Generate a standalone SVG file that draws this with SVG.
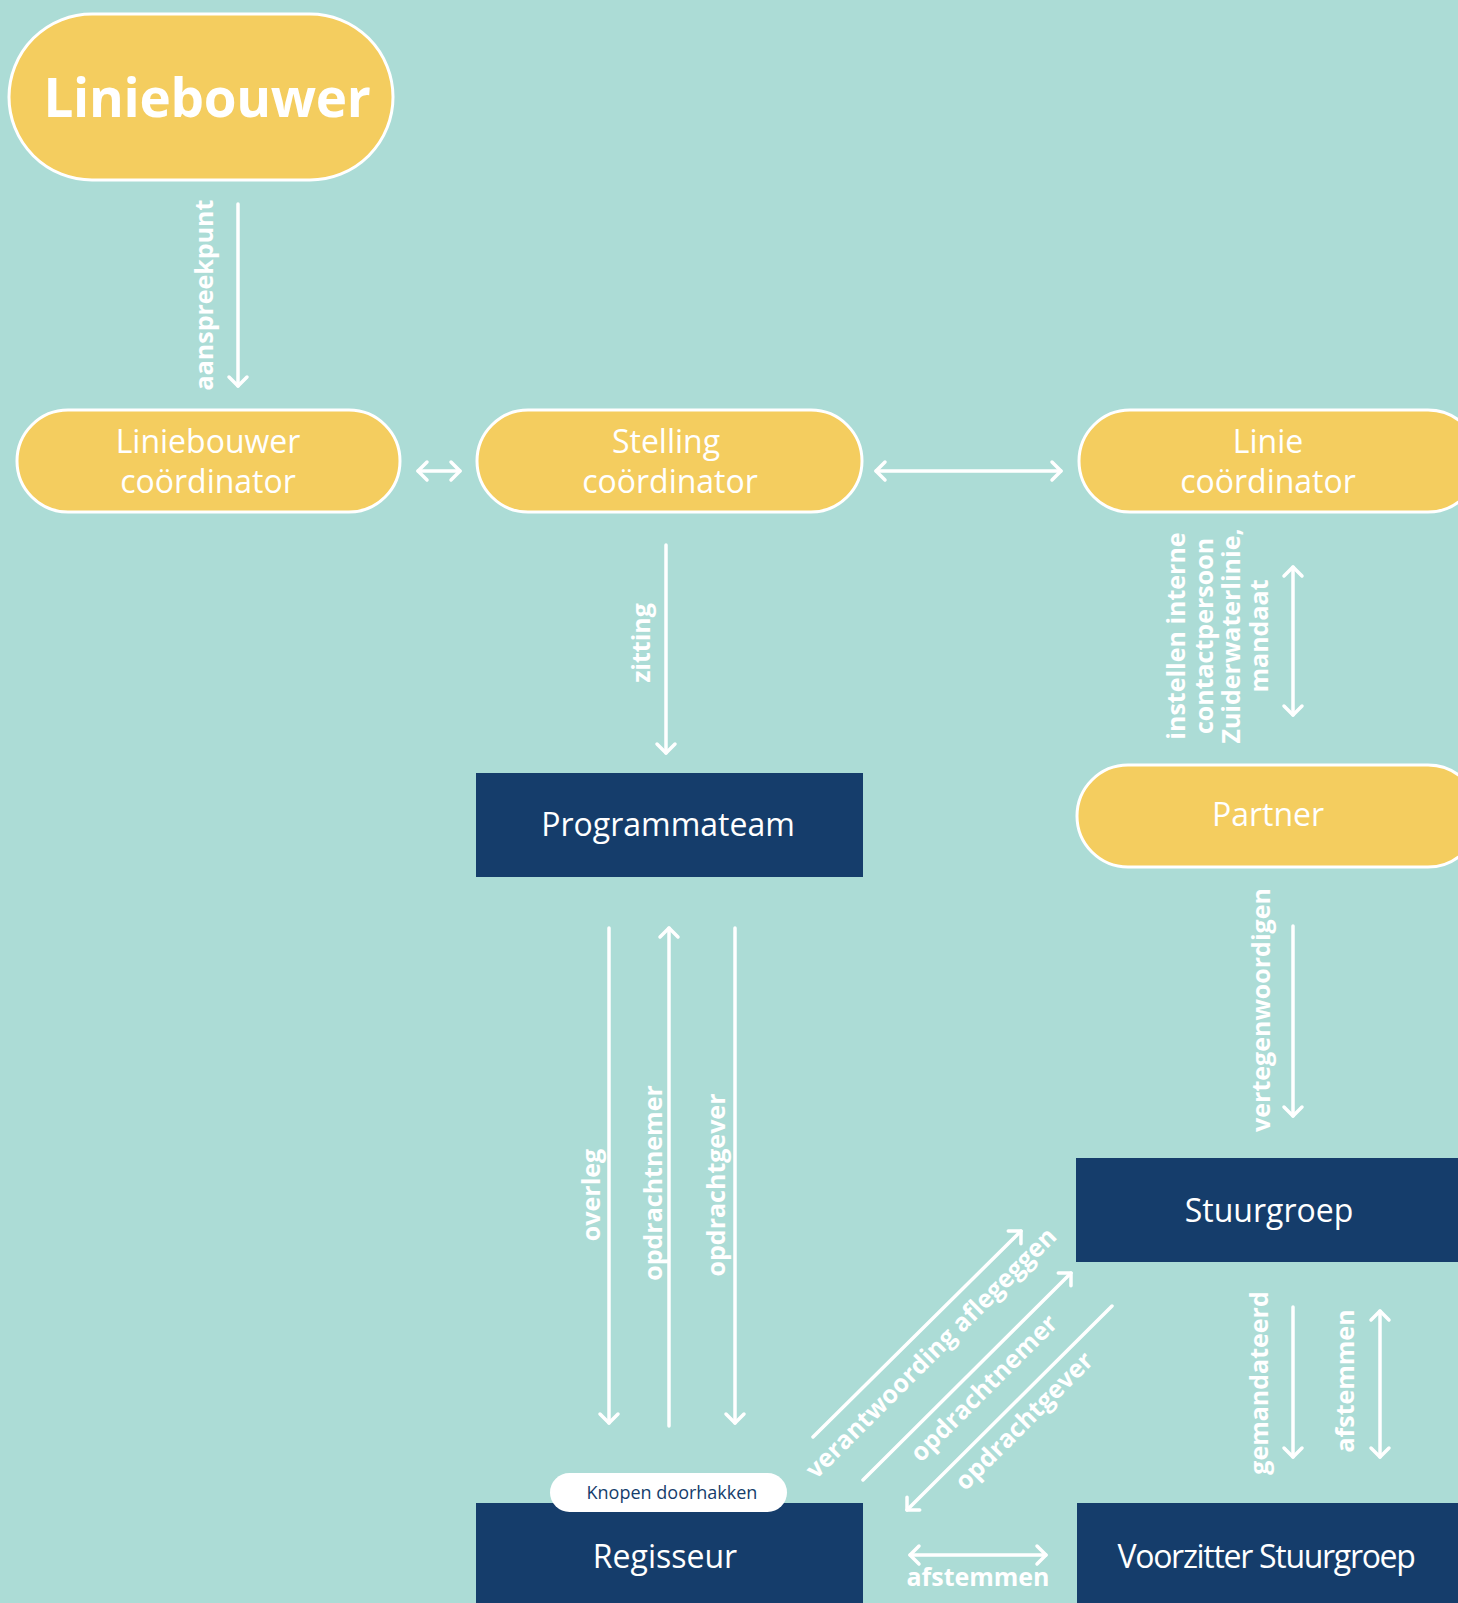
<svg xmlns="http://www.w3.org/2000/svg" width="1458" height="1603" viewBox="0 0 1458 1603">
<defs>
<style>
.pill{fill:#f4cd5f;stroke:#ffffff;stroke-width:3}
.box{fill:#153d6b}
.nt{font-family:"Open Sans","Liberation Sans",sans-serif;font-size:32px;fill:#ffffff;text-anchor:middle}
.lb{font-family:"Open Sans","Liberation Sans",sans-serif;font-size:25px;font-weight:700;fill:#ffffff;text-anchor:middle}
.ln{stroke:#ffffff;stroke-width:3.5;stroke-linecap:round;fill:none}
</style>
<marker id="ah" viewBox="-12 -12 24 24" markerWidth="24" markerHeight="24" refX="0" refY="0" markerUnits="userSpaceOnUse" orient="auto-start-reverse">
<path d="M-9,-9 L0,0 L-9,9" fill="none" stroke="#ffffff" stroke-width="3.5" stroke-linecap="round" stroke-linejoin="round"/>
</marker>
</defs>
<rect x="0" y="0" width="1458" height="1603" fill="#acdcd6"/>

<g id="connectors">
<line class="ln" x1="238" y1="204" x2="238" y2="386" marker-end="url(#ah)"/>
<line class="ln" x1="418" y1="471" x2="460" y2="471" marker-start="url(#ah)" marker-end="url(#ah)"/>
<line class="ln" x1="876" y1="471" x2="1061" y2="471" marker-start="url(#ah)" marker-end="url(#ah)"/>
<line class="ln" x1="666" y1="545" x2="666" y2="753" marker-end="url(#ah)"/>
<line class="ln" x1="1293" y1="567" x2="1293" y2="715" marker-start="url(#ah)" marker-end="url(#ah)"/>
<line class="ln" x1="1293" y1="926" x2="1293" y2="1116" marker-end="url(#ah)"/>
<line class="ln" x1="609" y1="928" x2="609" y2="1423" marker-end="url(#ah)"/>
<line class="ln" x1="669" y1="1426" x2="669" y2="928" marker-end="url(#ah)"/>
<line class="ln" x1="735" y1="928" x2="735" y2="1423" marker-end="url(#ah)"/>
<line class="ln" x1="1293" y1="1307" x2="1293" y2="1457" marker-end="url(#ah)"/>
<line class="ln" x1="1380" y1="1311" x2="1380" y2="1457" marker-start="url(#ah)" marker-end="url(#ah)"/>
<line class="ln" x1="813" y1="1437" x2="1021" y2="1231" marker-end="url(#ah)"/>
<line class="ln" x1="863" y1="1480" x2="1071" y2="1273" marker-end="url(#ah)"/>
<line class="ln" x1="1112" y1="1306" x2="907" y2="1510" marker-end="url(#ah)"/>
<line class="ln" x1="910" y1="1555" x2="1046" y2="1555" marker-start="url(#ah)" marker-end="url(#ah)"/>

<text class="lb" transform="translate(213,295) rotate(-90)">aanspreekpunt</text>
<text class="lb" transform="translate(650,643) rotate(-90)">zitting</text>
<text class="lb" transform="translate(1185,636) rotate(-90)">instellen interne</text>
<text class="lb" transform="translate(1213,636) rotate(-90)">contactpersoon</text>
<text class="lb" transform="translate(1240,636) rotate(-90)">Zuiderwaterlinie,</text>
<text class="lb" transform="translate(1268,636) rotate(-90)">mandaat</text>
<text class="lb" transform="translate(1270,1010) rotate(-90)">vertegenwoordigen</text>
<text class="lb" transform="translate(600,1195) rotate(-90)">overleg</text>
<text class="lb" transform="translate(662,1183) rotate(-90)">opdrachtnemer</text>
<text class="lb" transform="translate(725,1185) rotate(-90)">opdrachtgever</text>
<text class="lb" transform="translate(1268,1383) rotate(-90)">gemandateerd</text>
<text class="lb" transform="translate(1354,1381) rotate(-90)">afstemmen</text>
<text class="lb" transform="translate(937,1359) rotate(-45)">verantwoording aflegeggen</text>
<text class="lb" transform="translate(990,1394) rotate(-45)">opdrachtnemer</text>
<text class="lb" transform="translate(1030,1427) rotate(-45)">opdrachtgever</text>
<text class="lb" x="978" y="1586">afstemmen</text>
</g>

<g id="liniebouwer">
<rect class="pill" x="9" y="14" width="384" height="166" rx="83"/>
<text x="207" y="117" font-family="'Open Sans','Liberation Sans',sans-serif" font-size="53" font-weight="700" fill="#ffffff" text-anchor="middle" letter-spacing="-0.3">Liniebouwer</text>
</g>

<g id="liniebouwer-coordinator">
<rect class="pill" x="17" y="410" width="383" height="102" rx="51"/>
<text class="nt" x="208" y="453">Liniebouwer</text>
<text class="nt" x="208" y="493">coördinator</text>
</g>

<g id="stelling-coordinator">
<rect class="pill" x="477" y="410" width="385" height="102" rx="51"/>
<text class="nt" x="666" y="453">Stelling</text>
<text class="nt" x="670" y="493">coördinator</text>
</g>

<g id="linie-coordinator">
<rect class="pill" x="1079" y="410" width="400" height="102" rx="51"/>
<text class="nt" x="1268" y="453">Linie</text>
<text class="nt" x="1268" y="493">coördinator</text>
</g>

<g id="programmateam">
<rect class="box" x="476" y="773" width="387" height="104"/>
<text class="nt" x="668" y="836">Programmateam</text>
</g>

<g id="partner">
<rect class="pill" x="1077" y="765" width="402" height="102" rx="51"/>
<text class="nt" x="1268" y="826">Partner</text>
</g>

<g id="stuurgroep">
<rect class="box" x="1076" y="1158" width="390" height="104"/>
<text class="nt" x="1269" y="1222">Stuurgroep</text>
</g>

<g id="regisseur">
<rect class="box" x="476" y="1503" width="387" height="110"/>
<text class="nt" x="665" y="1568">Regisseur</text>
<rect x="550" y="1473" width="237" height="39" rx="19.5" fill="#ffffff"/>
<text x="672" y="1499" font-family="'Open Sans','Liberation Sans',sans-serif" font-size="18" fill="#153d6b" text-anchor="middle">Knopen doorhakken</text>
</g>

<g id="voorzitter-stuurgroep">
<rect class="box" x="1077" y="1503" width="390" height="110"/>
<text class="nt" x="1266" y="1568" letter-spacing="-1.3">Voorzitter Stuurgroep</text>
</g>
</svg>
